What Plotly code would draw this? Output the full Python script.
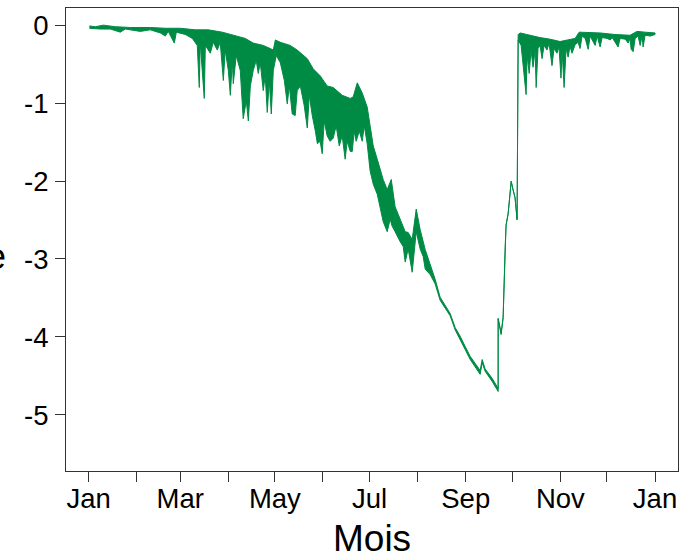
import pandas as pd
import plotly.graph_objects as go

# ---- data (day of year offset from 1 Jan, level) ----
top_day = [0.5, 4.3, 9.5, 17.2, 26.9, 39.7, 49.4, 59.1, 68.7, 77.1, 86.1, 95.8,
           100.9, 106.1, 112.5, 117.0, 119.0, 120.3, 123.5, 129.9, 134.4, 140.9,
           144.7, 149.2, 153.7, 157.6, 163.4, 168.6, 170.5, 173.1, 176.3, 179.5,
           181.4, 183.4, 186.0, 187.9, 189.8, 192.4, 195.0, 197.5, 200.8, 204.0,
           205.9, 208.5, 211.1, 213.6, 216.9, 220.1, 223.3, 226.5, 229.8, 233.0,
           236.2, 239.4, 242.6, 245.9, 249.1, 252.3, 253.6, 255.5, 260.0, 263.9,
           263.9, 265.8, 267.1, 268.4, 269.0, 270.3, 272.3, 273.6, 274.8, 276.1,
           276.8, 278.1, 284.5, 290.9, 297.4, 303.8, 313.5, 316.1, 329.6, 339.2,
           348.9, 353.4, 358.6, 365.0]
top_val = [-0.01, -0.02, 0.00, -0.02, -0.03, -0.03, -0.04, -0.04, -0.06, -0.06, -0.09, -0.14,
           -0.17, -0.23, -0.26, -0.30, -0.32, -0.19, -0.22, -0.26, -0.32, -0.43,
           -0.56, -0.65, -0.78, -0.80, -0.90, -0.94, -0.92, -0.74, -0.87, -1.05,
           -1.29, -1.55, -1.72, -1.85, -1.98, -2.11, -1.98, -2.33, -2.49, -2.65,
           -2.66, -2.75, -2.36, -2.62, -2.88, -3.06, -3.26, -3.49, -3.60, -3.70,
           -3.88, -3.99, -4.12, -4.25, -4.34, -4.43, -4.29, -4.41, -4.53, -4.66,
           -3.76, -3.95, -3.75, -2.84, -2.56, -2.42, -2.00, -2.12, -2.21, -2.49,
           -0.12, -0.10, -0.13, -0.16, -0.18, -0.21, -0.17, -0.09, -0.10, -0.12,
           -0.13, -0.08, -0.09, -0.10]

low_day = [0.5, 7.5, 14.0, 20.4, 23.6, 33.3, 39.7, 46.2, 49.4, 51.3, 55.2, 56.5,
           62.3, 66.8, 70.0, 71.3, 71.9, 74.5, 75.2, 78.4, 80.3, 82.9, 84.8, 86.8,
           88.0, 90.0, 91.3, 92.6, 93.2, 95.1, 97.7, 99.6, 101.6, 102.9, 104.2,
           106.1, 108.0, 109.3, 110.6, 112.5, 113.8, 115.1, 116.4, 117.7, 119.0,
           120.9, 123.5, 126.1, 128.0, 129.3, 131.2, 133.1, 134.4, 136.4, 138.9,
           140.9, 142.2, 144.1, 146.1, 147.4, 149.2, 150.5, 151.8, 153.7, 155.6,
           157.6, 159.5, 161.5, 163.4, 165.3, 166.6, 168.6, 169.9, 171.1, 172.4,
           174.4, 176.3, 177.6, 179.5, 181.4, 183.4, 186.0, 187.9, 189.8, 192.4,
           194.3, 195.6, 197.5, 200.8, 202.7, 204.0, 205.9, 208.5, 209.8, 211.1,
           213.6, 215.6, 216.9, 220.1, 223.3, 226.5, 229.8, 233.0, 236.2, 239.4,
           242.6, 245.9, 249.1, 252.3, 253.6, 255.5, 260.0, 263.9, 263.9, 265.8,
           267.1, 268.4, 269.0, 270.3, 272.3, 273.6, 274.8, 276.1, 276.8, 278.7,
           280.0, 281.9, 282.6, 283.9, 285.1, 286.4, 287.7, 288.4, 289.6, 290.9,
           292.2, 293.5, 295.4, 296.7, 298.6, 299.9, 301.8, 303.1, 304.4, 305.1,
           306.4, 307.7, 309.0, 310.2, 311.5, 313.5, 315.4, 316.7, 318.0, 320.0,
           321.9, 323.2, 326.4, 327.7, 329.6, 330.9, 334.2, 336.1, 337.4, 341.2,
           342.5, 345.8, 347.7, 348.9, 349.6, 350.9, 352.2, 354.1, 355.4, 356.7,
           357.3, 358.6, 361.9, 365.0]
low_val = [-0.04, -0.05, -0.05, -0.09, -0.05, -0.08, -0.06, -0.10, -0.14, -0.08, -0.23, -0.09,
           -0.12, -0.17, -0.26, -0.80, -0.22, -0.94, -0.26, -0.36, -0.22, -0.32, -0.22, -0.71,
           -0.32, -0.58, -0.90, -0.45, -0.75, -0.39, -0.58, -1.20, -0.97, -1.23, -0.78,
           -0.58, -0.45, -0.62, -0.48, -0.84, -0.65, -1.12, -0.71, -1.14, -0.58,
           -0.39, -0.48, -0.71, -1.01, -0.78, -1.14, -1.16, -0.84, -0.78, -1.03,
           -1.32, -0.90, -1.16, -1.36, -1.52, -1.49, -1.65, -1.23, -1.42, -1.49,
           -1.45, -1.29, -1.55, -1.42, -1.72, -1.49, -1.62, -1.62, -1.36, -1.49,
           -1.36, -1.49, -1.29, -1.52, -1.87, -2.04, -2.17, -2.35, -2.52, -2.65,
           -2.49, -2.58, -2.65, -2.78, -2.84, -3.04, -2.87, -3.17, -2.91, -2.65,
           -2.87, -2.97, -3.13, -3.20, -3.32, -3.53, -3.63, -3.73, -3.91, -4.03,
           -4.16, -4.29, -4.38, -4.48, -4.33, -4.44, -4.57, -4.70, -3.77, -3.97,
           -3.76, -2.85, -2.57, -2.43, -2.01, -2.13, -2.22, -2.50, -0.19, -0.26,
           -0.45, -0.89, -0.39, -0.62, -0.32, -0.54, -0.32, -0.80, -0.30, -0.26,
           -0.43, -0.26, -0.32, -0.23, -0.52, -0.30, -0.36, -0.28, -0.68, -0.32,
           -0.80, -0.30, -0.41, -0.27, -0.36, -0.25, -0.22, -0.30, -0.14, -0.17,
           -0.31, -0.14, -0.26, -0.14, -0.28, -0.16, -0.17, -0.19, -0.16, -0.28,
           -0.17, -0.18, -0.23, -0.17, -0.31, -0.34, -0.17, -0.14, -0.26, -0.14,
           -0.28, -0.13, -0.14, -0.12]

month_ticks = pd.date_range("2021-01-01", "2022-01-01", freq="MS")
month_text = ["Jan", "", "Mar", "", "May", "", "Jul", "", "Sep", "", "Nov", "", "Jan"]
y_ticks = [0, -1, -2, -3, -4, -5]
y_text = ["0", "-1", "-2", "-3", "-4", "-5"]

GREEN = "#008B45"
FONT = "Liberation Sans, Arial, Helvetica, sans-serif"
start = pd.Timestamp("2021-01-01")


def to_dates(days):
    return [start + pd.Timedelta(days=d) for d in days]


x_poly = to_dates(top_day) + to_dates(low_day[::-1])
y_poly = top_val + low_val[::-1]

fig = go.Figure()
fig.add_trace(go.Scatter(
    x=x_poly, y=y_poly, mode="lines", fill="toself", fillcolor=GREEN,
    line=dict(color=GREEN, width=1), hoverinfo="skip", showlegend=False,
))

axis_common = dict(
    showgrid=False, zeroline=False, showline=True, linecolor="#333333",
    linewidth=1, mirror=True, ticks="outside", ticklen=10, tickwidth=1,
    tickcolor="#333333", tickfont=dict(family=FONT, size=27.5, color="black"),
)

fig.update_layout(
    width=699, height=558,
    margin=dict(l=66, r=21, t=8, b=87, autoexpand=False),
    paper_bgcolor="white", plot_bgcolor="white",
    font=dict(family=FONT, color="black"),
    xaxis=dict(
        range=[start - pd.Timedelta(days=14.6), start + pd.Timedelta(days=379.8)],
        tickmode="array", tickvals=list(month_ticks), ticktext=month_text,
        ticklabelstandoff=-7, **axis_common,
    ),
    yaxis=dict(
        range=[-5.72, 0.22], tickmode="array", tickvals=y_ticks, ticktext=y_text,
        ticklabelstandoff=1, **axis_common,
    ),
    annotations=[
        dict(text="Mois", xref="paper", yref="paper", x=0.5, y=-0.145,
             xanchor="center", yanchor="middle", showarrow=False,
             font=dict(family=FONT, size=37, color="black")),
        dict(text="e", xref="paper", yref="paper", x=-0.0948, y=0.464,
             xanchor="right", yanchor="middle", showarrow=False,
             font=dict(family=FONT, size=36, color="black")),
    ],
)

fig.write_html("out.html", config={"displayModeBar": False},
               post_script="document.body.style.margin='0';")
